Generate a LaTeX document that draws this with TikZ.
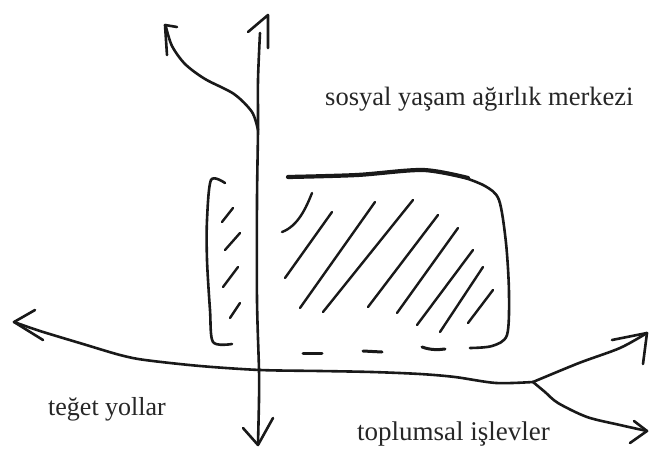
\documentclass[tikz,border=0pt]{standalone}
\usepackage{fontspec}
\setmainfont{Liberation Serif}
\begin{document}
\begin{tikzpicture}[x=1pt,y=-1pt,
  ink/.style={draw=black!90,line width=2.6pt,line cap=round,line join=round},
  hatch/.style={draw=black!90,line width=2.4pt,line cap=round},
  lbl/.style={anchor=base west,inner sep=0pt,text=black!85}]
\useasboundingbox[fill=white] (0,0) rectangle (649,450);
% vertical axis
\draw[ink] plot[smooth] coordinates {(258,443) (259,400) (259,370) (257,300) (257,200) (258,130) (258,80) (260,33)};
\coordinate (vtop) at (268,15);
\draw[ink] (248,32) -- (vtop) -- (268,48);
\coordinate (vbot) at (258,445);
\draw[ink] (243,428) -- (vbot) -- (273,418);
% left branch up
\draw[ink] plot[smooth] coordinates {(258,130) (252,112) (234,94) (205,79) (185,64) (172,46) (166,27)};
\coordinate (ltop) at (165,25);
\draw[ink] (177,27) -- (ltop) -- (167,55);
% horizontal line
\coordinate (hleft) at (14,322);
\coordinate (junc) at (533,382);
\draw[ink] plot[smooth] coordinates {(hleft) (40,331) (83,344) (120,355) (145,360) (200,366) (260,370) (320,371) (372,372) (420,374) (455,377) (496,383) (junc)};
\draw[ink] (35,310) -- (hleft) -- (43,340);
\coordinate (rtop) at (647,333);
\coordinate (rbot) at (647,431);
\draw[ink] plot[smooth] coordinates {(junc) (579,363) (620,348) (rtop)};
\draw[ink] (612,340) -- (rtop) -- (643,364);
\draw[ink] plot[smooth] coordinates {(junc) (545,392) (558,403) (587,417) (620,425) (rbot)};
\draw[ink] (634,421) -- (rbot) -- (630,443);
% box
\draw[ink,line width=4.2pt] plot[smooth] coordinates {(288,177) (357,175) (423,170) (468,178)};
\draw[ink] plot[smooth] coordinates {(460,176) (485,186) (499,200) (506,243) (509,293) (507,335) (492,346) (470,348)};
\draw[ink] plot[smooth] coordinates {(225,183) (211,180) (207,220) (207,260) (210,310) (213,342) (232,344)};
% left hatches
\draw[hatch] (222,222) -- (233,208);
\draw[hatch] (225,250) -- (240,233);
\draw[hatch] (223,287) -- (238,267);
\draw[hatch] (230,318) -- (240,303);
% right hatches
\draw[hatch] (282,232) .. controls (298,226) and (306,208) .. (312,193);
\draw[hatch] (285,278) -- (332,212);
\draw[hatch] (300,308) -- (375,202);
\draw[hatch] (323,312) -- (413,200);
\draw[hatch] (368,307) -- (438,215);
\draw[hatch] (397,313) -- (458,228);
\draw[hatch] (417,325) -- (473,250);
\draw[hatch] (440,332) -- (483,267);
\draw[hatch] (468,323) -- (493,290);
% dashes
\draw[hatch,line width=3pt] (303,353) -- (322,353);
\draw[hatch,line width=3pt] (363,351) -- (382,352);
\draw[hatch,line width=3pt] (422,347) .. controls (430,350) and (438,350) .. (445,349);
% labels
\node[lbl,font=\fontsize{26.5}{30}\selectfont] (t1) at (325,105) {sosyal yaşam ağırlık merkezi};
\node[lbl,font=\fontsize{26}{30}\selectfont] (t2) at (48,415) {teğet yollar};
\node[lbl,font=\fontsize{27}{30}\selectfont] (t3) at (357,440) {toplumsal işlevler};
\end{tikzpicture}
\end{document}
